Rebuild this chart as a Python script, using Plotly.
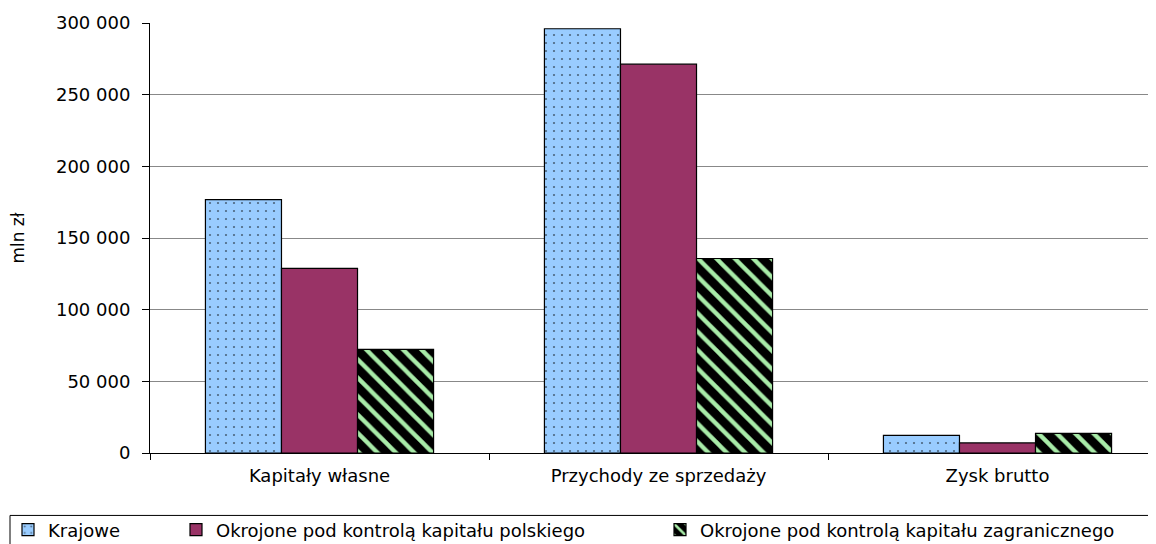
import plotly.graph_objects as go

categories = ["Kapitały własne", "Przychody ze sprzedaży", "Zysk brutto"]
series_names = [
    "Krajowe",
    "Okrojone pod kontrolą kapitału polskiego",
    "Okrojone pod kontrolą kapitału zagranicznego",
]
krajowe = [176800, 296000, 12300]
polskie = [128800, 271300, 7000]
zagraniczne = [72300, 135700, 13700]
y_ticks = [0, 50000, 100000, 150000, 200000, 250000, 300000]

FONT = "DejaVu Sans"
OFF = 8  # page body margin
W, H = 1156 - OFF, 544 - OFF

fig = go.Figure()
fig.add_trace(go.Bar(
    name=series_names[0], x=categories, y=krajowe, legend="legend",
    marker=dict(color="#99CCFF", line=dict(color="black", width=1.2),
                pattern=dict(shape=".", fgcolor="black", bgcolor="#99CCFF",
                             size=8, solidity=0.06, fillmode="overlay")),
))
fig.add_trace(go.Bar(
    name=series_names[1], x=categories, y=polskie, legend="legend2",
    marker=dict(color="#993366", line=dict(color="black", width=1.2)),
))
fig.add_trace(go.Bar(
    name=series_names[2], x=categories, y=zagraniczne, legend="legend3",
    marker=dict(color="black", line=dict(color="black", width=1.2),
                pattern=dict(shape="\\", fgcolor="#A8EBA8", bgcolor="black",
                             size=13, solidity=0.33, fillmode="replace")),
))

# target page coordinates
plot_left, plot_right = 150, 1156
plot_top, plot_bottom = 23, 453.5
cat_w = 339.0
x_end = -0.5 + (plot_right - plot_left) / cat_w
pw = plot_right - plot_left
ph = plot_bottom - plot_top


def px_to_paper_x(px):
    return (px - plot_left) / pw


def py_to_paper_y(py):
    return (plot_bottom - py) / ph


legend_text_y = 530
legend_font = dict(family=FONT, size=18, color="black")


def leg(page_x):
    return dict(
        orientation="h", xref="container", yref="container",
        x=(page_x - OFF) / W, xanchor="left",
        y=1 - (legend_text_y - OFF) / H, yanchor="middle",
        bgcolor="rgba(0,0,0,0)", borderwidth=0,
        font=legend_font, itemwidth=30,
    )


fig.update_layout(
    width=W, height=H,
    margin=dict(l=plot_left - OFF, r=0, t=plot_top - OFF, b=H - (plot_bottom - OFF)),
    paper_bgcolor="white", plot_bgcolor="white",
    font=dict(family=FONT, size=18, color="black"),
    barmode="group", bargap=0.327, bargroupgap=0,
    separators=", ",
    showlegend=True,
    legend=leg(-2),
    legend2=leg(176),
    legend3=leg(660),
    shapes=[dict(
        type="rect", xref="paper", yref="paper",
        x0=px_to_paper_x(10), x1=px_to_paper_x(1170),
        y0=py_to_paper_y(516), y1=py_to_paper_y(570),
        line=dict(color="black", width=1), fillcolor="rgba(0,0,0,0)",
        layer="above",
    )],
    xaxis=dict(
        type="category", range=[-0.5, x_end],
        showline=True, linecolor="black", linewidth=1,
        ticks="outside", tickson="boundaries", ticklen=6, tickcolor="black",
        showgrid=False, tickfont=dict(family=FONT, size=18),
        ticklabelstandoff=6,
    ),
    yaxis=dict(
        range=[0, 300000], tickvals=y_ticks, tickformat=",d",
        showline=True, linecolor="black", linewidth=1,
        ticks="outside", ticklen=7, tickcolor="black",
        showgrid=True, gridcolor="#888888", gridwidth=1,
        zeroline=False, ticklabelstandoff=8,
        title=dict(text="mln zł", font=dict(family=FONT, size=17), standoff=30),
        tickfont=dict(family=FONT, size=18),
    ),
)

fig.write_html("out.html")
